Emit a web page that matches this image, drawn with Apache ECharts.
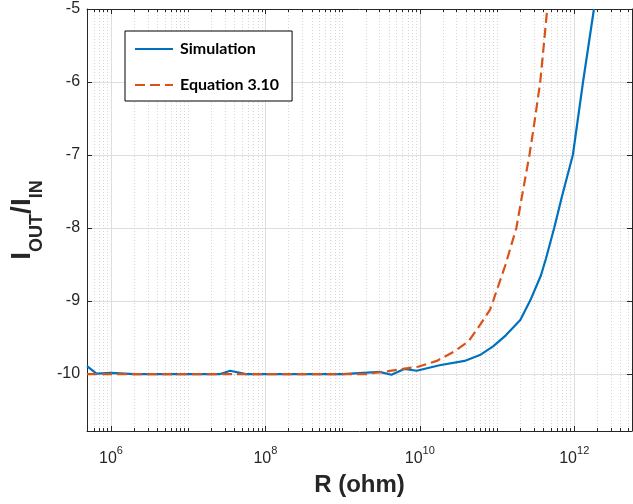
<!DOCTYPE html>
<html>
<head>
<meta charset="utf-8">
<script src="https://cdn.jsdelivr.net/npm/echarts@6/dist/echarts.min.js"></script>
<style>
html, body { margin: 0; padding: 0; background: #fff; }
#chart { width: 633px; height: 504px; }
</style>
</head>
<body>
<div id="chart"></div>
<script>
// values: R in ohm, y = I_OUT/I_IN
var simR = [4.9e5, 6.5e5, 1.0e6, 2.0e6, 2.6e7, 3.5e7, 5.6e7, 1.0e9, 3.0e9, 4.3e9, 6.3e9, 9.1e9,
            1.8e10, 3.8e10, 6.0e10, 8.9e10, 1.3e11, 2.0e11, 2.7e11, 3.7e11, 4.3e11, 5.5e11,
            7.0e11, 9.6e11, 1.3e12, 1.8e12];
var simY = [-9.89, -9.995, -9.985, -10.0, -10.0, -9.955, -10.0, -10.0, -9.97, -10.01, -9.93, -9.955,
            -9.88, -9.82, -9.74, -9.62, -9.47, -9.26, -8.99, -8.65, -8.42, -8.0,
            -7.55, -7.0, -6.0, -5.0];

var eqR = [4.9e5, 2.0e9, 3.9e9, 9.5e9, 1.66e10, 2.8e10, 4.3e10, 6.0e10, 8.1e10, 8.9e10,
           1.29e11, 1.78e11, 2.1e11, 2.63e11, 2.95e11, 3.63e11, 4.47e11];
var eqY = [-10.0, -10.0, -9.96, -9.9, -9.82, -9.69, -9.55, -9.33, -9.12, -9.0,
           -8.5, -8.0, -7.57, -7.0, -6.66, -6.0, -5.0];

var xMin = 4.9e5, xMax = 5.6e12;
var yMin = -10.78, yMax = -5;
var xMajor = [1e6, 1e8, 1e10, 1e12];
var yTicks = [-10, -9, -8, -7, -6, -5];

// minor log ticks: every k*10^n that is not a labelled decade
var xMinor = [];
for (var e = 5; e <= 12; e++) {
  for (var k = 1; k <= 9; k++) {
    var v = k * Math.pow(10, e);
    if (v > xMin && v < xMax && xMajor.indexOf(v) < 0) xMinor.push(v);
  }
}

var axisColor = '#262626';
var tickFont = 'Liberation Sans, Arial, sans-serif';

function pairs(xs, ys) {
  return xs.map(function (x, i) { return [x, ys[i]]; });
}

function xAxisOf(pos, ticks, len, withLine) {
  return {
    type: 'log', logBase: 10, min: xMin, max: xMax, position: pos,
    axisLine: { show: withLine, onZero: false, lineStyle: { color: axisColor, width: 1 } },
    axisTick: { show: true, inside: true, length: len, customValues: ticks,
                lineStyle: { color: axisColor, width: 1 } },
    axisLabel: { show: false },
    splitLine: { show: false },
    minorTick: { show: false },
    minorSplitLine: { show: false }
  };
}

var bottomMajor = xAxisOf('bottom', xMajor, 5, true);
bottomMajor.axisLabel = {
  show: true, customValues: xMajor, margin: 14,
  formatter: function (v) {
    return '{b|10}{s|' + Math.round(Math.log10(v)) + '}';
  },
  rich: {
    b: { fontFamily: tickFont, fontSize: 16, color: axisColor, lineHeight: 22, verticalAlign: 'bottom' },
    s: { fontFamily: tickFont, fontSize: 11, color: axisColor, lineHeight: 11, verticalAlign: 'top' }
  }
};
bottomMajor.splitLine = { show: true, lineStyle: { color: '#dedede', width: 1 } };
bottomMajor.name = 'R (ohm)';
bottomMajor.nameLocation = 'middle';
bottomMajor.nameGap = 42;
bottomMajor.nameTextStyle = { fontFamily: tickFont, fontSize: 24, fontWeight: 'bold', color: axisColor };

var bottomMinor = xAxisOf('bottom', xMinor, 3, false);
bottomMinor.splitLine = { show: true, lineStyle: { color: '#d6d6d6', width: 1, type: [1, 2] } };

var topMajor = xAxisOf('top', xMajor, 5, true);
var topMinor = xAxisOf('top', xMinor, 3, false);

function yAxisOf(pos) {
  return {
    type: 'value', min: yMin, max: yMax, position: pos,
    axisLine: { show: true, onZero: false, lineStyle: { color: axisColor, width: 1 } },
    axisTick: { show: true, inside: true, length: 5, customValues: yTicks,
                lineStyle: { color: axisColor, width: 1 } },
    axisLabel: { show: false },
    splitLine: { show: false }
  };
}

var yLeft = yAxisOf('left');
yLeft.axisLabel = { show: true, customValues: yTicks, margin: 7,
                    fontFamily: tickFont, fontSize: 16, color: axisColor };
yLeft.splitLine = { show: true, lineStyle: { color: '#dedede', width: 1 } };
yLeft.name = '{i|I}{s|OUT}{i|/I}{s|IN}';
yLeft.nameLocation = 'middle';
yLeft.nameRotate = 90;
yLeft.nameGap = 20;
yLeft.nameTextStyle = {
  rich: {
    i: { fontFamily: tickFont, fontSize: 28, fontWeight: 'bold', color: axisColor,
         lineHeight: 28, verticalAlign: 'top' },
    s: { fontFamily: tickFont, fontSize: 18, fontWeight: 'bold', color: axisColor,
         lineHeight: 58, verticalAlign: 'middle' }
  }
};
var yRight = yAxisOf('right');

var chart = echarts.init(document.getElementById('chart'), null, { renderer: 'canvas' });
chart.setOption({
  animation: false,
  backgroundColor: '#fff',
  grid: { left: 86, top: 9, right: 1, bottom: 73, containLabel: false },
  xAxis: [bottomMajor, bottomMinor, topMajor, topMinor],
  yAxis: [yLeft, yRight],
  legend: {
    orient: 'vertical', left: 125, top: 31,
    padding: [10, 13, 8, 9], itemGap: 20, itemWidth: 38, itemHeight: 14,
    backgroundColor: '#fff', borderColor: '#000', borderWidth: 1, borderRadius: 0,
    itemStyle: { opacity: 0 },
    textStyle: { fontFamily: 'Lato', fontWeight: 'bold', fontSize: 16, color: '#000', padding: [0, 0, 0, 2] },
    data: ['Simulation', 'Equation 3.10']
  },
  series: [
    {
      name: 'Simulation', type: 'line', xAxisIndex: 0, yAxisIndex: 0,
      data: pairs(simR, simY), symbol: 'none', showSymbol: false, z: 3,
      lineStyle: { color: '#0072BD', width: 2.2 }, itemStyle: { color: '#0072BD' }
    },
    {
      name: 'Equation 3.10', type: 'line', xAxisIndex: 0, yAxisIndex: 0,
      data: pairs(eqR, eqY), symbol: 'none', showSymbol: false, z: 4,
      lineStyle: { color: '#D95319', width: 2.2, type: [10, 5] }, itemStyle: { color: '#D95319' }
    }
  ]
});
</script>
</body>
</html>
